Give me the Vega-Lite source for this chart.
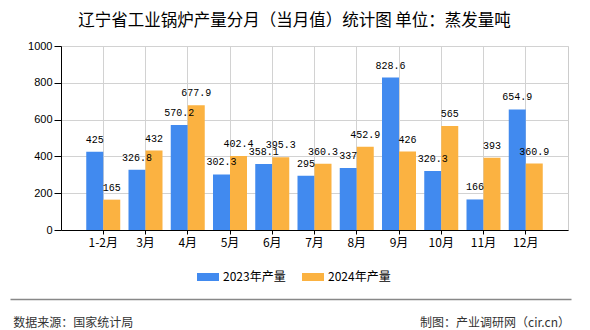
{
  "$schema": "https://vega.github.io/schema/vega-lite/v6.json",
  "width": 507,
  "height": 184,
  "autosize": "none",
  "padding": {"left": 61, "top": 46, "right": 22, "bottom": 100},
  "background": "white",
  "title": {
    "text": "辽宁省工业锅炉产量分月（当月值）统计图 单位：蒸发量吨",
    "font": "Noto Sans CJK SC",
    "fontSize": 16.5,
    "fontWeight": "normal",
    "color": "#000000",
    "anchor": "middle",
    "frame": "group",
    "dx": -20,
    "offset": 11
  },
  "config": {
    "view": {"stroke": "#cccccc"},
    "font": "Noto Sans CJK SC"
  },
  "layer": [
    {
      "data": {
        "values": [
          {"month": "1-2月", "series": "2023年产量", "value": 425},
          {"month": "1-2月", "series": "2024年产量", "value": 165},
          {"month": "3月", "series": "2023年产量", "value": 326.8},
          {"month": "3月", "series": "2024年产量", "value": 432},
          {"month": "4月", "series": "2023年产量", "value": 570.2},
          {"month": "4月", "series": "2024年产量", "value": 677.9},
          {"month": "5月", "series": "2023年产量", "value": 302.3},
          {"month": "5月", "series": "2024年产量", "value": 402.4},
          {"month": "6月", "series": "2023年产量", "value": 358.1},
          {"month": "6月", "series": "2024年产量", "value": 395.3},
          {"month": "7月", "series": "2023年产量", "value": 295},
          {"month": "7月", "series": "2024年产量", "value": 360.3},
          {"month": "8月", "series": "2023年产量", "value": 337},
          {"month": "8月", "series": "2024年产量", "value": 452.9},
          {"month": "9月", "series": "2023年产量", "value": 828.6},
          {"month": "9月", "series": "2024年产量", "value": 426},
          {"month": "10月", "series": "2023年产量", "value": 320.3},
          {"month": "10月", "series": "2024年产量", "value": 565},
          {"month": "11月", "series": "2023年产量", "value": 166},
          {"month": "11月", "series": "2024年产量", "value": 393},
          {"month": "12月", "series": "2023年产量", "value": 654.9},
          {"month": "12月", "series": "2024年产量", "value": 360.9}
        ]
      },
      "encoding": {
        "x": {
          "field": "month",
          "type": "nominal",
          "sort": null,
          "scale": {"paddingInner": 0, "paddingOuter": 0.5},
          "axis": {
            "title": null,
            "labelAngle": 0,
            "labelFont": "Noto Sans CJK SC",
            "labelFontSize": 12,
            "labelColor": "#000000",
            "labelPadding": 3,
            "tickSize": 4,
            "tickColor": "#000000",
            "domainColor": "#000000",
            "grid": true,
            "gridColor": "#d2d2d2",
            "bandPosition": 0.5
          }
        },
        "xOffset": {
          "field": "series",
          "type": "nominal",
          "scale": {"paddingInner": 0, "paddingOuter": 0.2426}
        },
        "y": {
          "field": "value",
          "type": "quantitative",
          "scale": {"domain": [0, 1000], "nice": false},
          "axis": {
            "values": [0, 200, 400, 600, 800, 1000],
            "format": "d",
            "title": "制图：产业调研网（cir.cn）",
            "titleAngle": 0,
            "titleAlign": "right",
            "titleBaseline": "middle",
            "titleX": 508.5,
            "titleY": 276,
            "titleFont": "Noto Sans CJK SC",
            "titleFontSize": 12,
            "titleFontWeight": "normal",
            "titleColor": "#333333",
            "labelFont": "Liberation Sans",
            "labelFontSize": 11,
            "labelColor": "#000000",
            "labelPadding": 2,
            "tickSize": 7,
            "tickColor": "#000000",
            "domainColor": "#000000",
            "grid": true,
            "gridColor": "#d2d2d2"
          }
        }
      },
      "layer": [
        {
          "mark": {"type": "bar"},
          "encoding": {
            "color": {
              "field": "series",
              "type": "nominal",
              "scale": {"domain": ["2023年产量", "2024年产量"], "range": ["#418AEF", "#FBB241"]},
              "legend": {
                "title": null,
                "orient": "none",
                "direction": "horizontal",
                "columns": 2,
                "legendX": 136,
                "legendY": 220,
                "padding": 0,
                "symbolType": "M-1,-0.3636H1V0.3636H-1Z",
                "symbolSize": 484,
                "symbolStrokeWidth": 0,
                "symbolOpacity": 1,
                "labelFont": "Noto Sans CJK SC",
                "labelFontSize": 12,
                "labelColor": "#000000",
                "labelOffset": 4,
                "columnPadding": 16
              }
            }
          }
        },
        {
          "mark": {"type": "text", "baseline": "middle", "dy": -12, "font": "Liberation Mono", "fontSize": 10, "color": "#000000"},
          "encoding": {
            "text": {"field": "value", "type": "quantitative"}
          }
        }
      ]
    },
    {
      "data": {"values": [{"pos": 0}, {"pos": 1}]},
      "mark": {"type": "text", "text": ""},
      "encoding": {
        "x": {
          "field": "pos",
          "type": "quantitative",
          "scale": {"domain": [0, 1], "range": [-51, 510], "nice": false, "zero": false},
          "axis": {
            "orient": "bottom",
            "offset": 69,
            "grid": false,
            "ticks": false,
            "labels": false,
            "domain": true,
            "domainColor": "#888888",
            "domainWidth": 1.5,
            "title": "数据来源：国家统计局",
            "titleAnchor": "start",
            "titleAlign": "left",
            "titleBaseline": "middle",
            "titleX": -48.3,
            "titleY": 23,
            "titleFont": "Noto Sans CJK SC",
            "titleFontSize": 12,
            "titleFontWeight": "normal",
            "titleColor": "#333333"
          }
        }
      }
    }
  ],
  "resolve": {"scale": {"x": "independent"}, "axis": {"x": "independent"}}
}
